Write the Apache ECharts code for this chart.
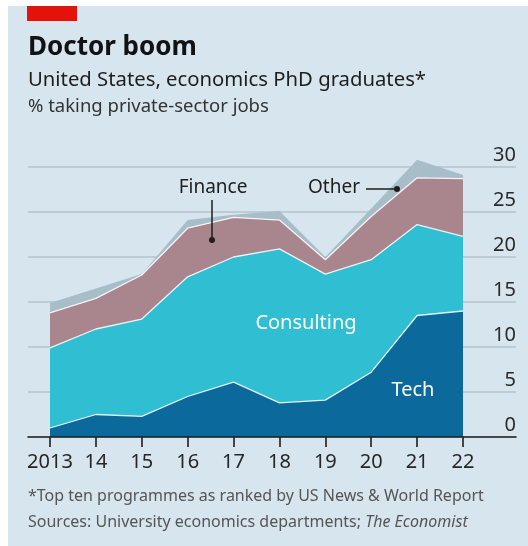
<!DOCTYPE html>
<html>
<head>
<meta charset="utf-8">
<script src="https://cdn.jsdelivr.net/npm/echarts@6/dist/echarts.min.js"></script>
<style>
  html, body { margin: 0; padding: 0; background: #ffffff; }
  #panel { position: absolute; left: 8px; top: 6px; width: 520px; height: 540px; background: #d7e5ee; }
  #chart { position: absolute; left: 0; top: 0; width: 528px; height: 546px; }
</style>
</head>
<body>
<div id="panel"></div>
<div id="chart"></div>
<script>
const years = ["2013", "14", "15", "16", "17", "18", "19", "20", "21", "22"];
const tech = [1.0, 2.5, 2.3, 4.5, 6.1, 3.8, 4.1, 7.2, 13.5, 14.0];
const consulting = [8.9, 9.5, 10.8, 13.3, 13.9, 17.1, 14.0, 12.5, 10.1, 8.3];
const finance = [3.9, 3.4, 4.9, 5.4, 4.4, 3.2, 1.6, 4.8, 5.2, 6.4];
const other = [1.1, 1.1, 0.1, 0.9, 0.3, 1.0, 0.3, 0.9, 2.0, 0.4];
const yMin = 0, yMax = 30, yStep = 5;

const FONT = "Noto Sans";
const chart = echarts.init(document.getElementById('chart'), null, { renderer: 'canvas' });

function areaSeries(name, data, color, lineW) {
  return {
    name: name, type: 'line', stack: 'total', xAxisIndex: 1, yAxisIndex: 1,
    data: data, symbol: 'none', smooth: false, z: 2, clip: false,
    lineStyle: { width: lineW, color: 'rgba(255,255,255,0.85)' },
    areaStyle: { color: color, opacity: 1 },
    emphasis: { disabled: true }
  };
}

const Z = 100;
chart.setOption({
  animation: false,
  textStyle: { fontFamily: FONT },
  grid: [
    { left: 28, right: 12, top: 167, bottom: 109 },
    { left: 50, right: 65, top: 167, bottom: 109 }
  ],
  xAxis: [
    { type: 'value', gridIndex: 0, min: 0, max: 1, show: true, z: 10,
      axisLine: { show: true, lineStyle: { color: '#1e1e1e', width: 1.6 } },
      axisTick: { show: false }, axisLabel: { show: false }, splitLine: { show: false } },
    { type: 'category', gridIndex: 1, data: years, boundaryGap: false, z: 10,
      axisLine: { show: false },
      axisTick: { show: true, length: 10, interval: 0, lineStyle: { color: '#1e1e1e', width: 1.6 } },
      axisLabel: { interval: 0, fontSize: 20, color: '#262626', margin: 15, fontFamily: FONT } }
  ],
  yAxis: [
    { type: 'value', gridIndex: 0, min: yMin, max: yMax, interval: yStep, position: 'right',
      axisLine: { show: false }, axisTick: { show: false },
      splitLine: { show: true, lineStyle: { color: '#b2c3cd', width: 1.5 } },
      axisLabel: { inside: true, margin: 0, fontSize: 20, color: '#2a2a2a', verticalAlign: 'bottom',
        padding: [0, 0, 2, 0], fontFamily: FONT } },
    { type: 'value', gridIndex: 1, min: yMin, max: yMax, interval: yStep, show: false }
  ],
  series: [
    areaSeries('Tech', tech, '#0b6a9b', 1.3),
    areaSeries('Consulting', consulting, '#30bed3', 1.3),
    areaSeries('Finance', finance, '#a9858d', 1.3),
    areaSeries('Other', other, '#a7bdc8', 0)
  ],
  graphic: [
    { type: 'rect', z: Z, left: 27, top: 6, shape: { width: 50, height: 15 }, style: { fill: '#e3120b' } },
    { type: 'text', z: Z, left: 28, top: 35, style: { text: 'Doctor boom', font: 'bold 26px "Noto Sans"', fill: '#121212' } },
    { type: 'text', z: Z, left: 28, top: 70, style: { text: 'United States, economics PhD graduates*', font: '20.3px "Noto Sans"', fill: '#1e1e1e' } },
    { type: 'text', z: Z, left: 28, top: 97, style: { text: '% taking private-sector jobs', font: '18.5px "Noto Sans"', fill: '#333333' } },
    { type: 'text', z: Z, left: 28, top: 488, style: { text: '*Top ten programmes as ranked by US News & World Report', font: '16px "Noto Sans"', fill: '#555555' } },
    { type: 'text', z: Z, left: 28, top: 514, style: { rich: { a: { font: '16px "Noto Sans"', fill: '#555555' }, b: { font: 'italic 16px "Noto Sans"', fill: '#555555' } },
        text: '{a|Sources: University economics departments; }{b|The Economist}' } },
    // annotations
    { type: 'text', z: Z, x: 213, y: 188, style: { text: 'Finance', font: '19px "Noto Sans"', fill: '#1e1e1e', align: 'center', verticalAlign: 'middle' } },
    { type: 'line', z: Z, shape: { x1: 212, y1: 200, x2: 212, y2: 240 }, style: { stroke: '#1e1e1e', lineWidth: 1.5 } },
    { type: 'circle', z: Z, shape: { cx: 212, cy: 240, r: 3 }, style: { fill: '#1e1e1e' } },
    { type: 'text', z: Z, x: 334, y: 188, style: { text: 'Other', font: '19px "Noto Sans"', fill: '#1e1e1e', align: 'center', verticalAlign: 'middle' } },
    { type: 'line', z: Z, shape: { x1: 366, y1: 189, x2: 397, y2: 189 }, style: { stroke: '#1e1e1e', lineWidth: 1.5 } },
    { type: 'circle', z: Z, shape: { cx: 397, cy: 189, r: 3 }, style: { fill: '#1e1e1e' } },
    { type: 'text', z: Z, x: 306, y: 323, style: { text: 'Consulting', font: '20px "Noto Sans"', fill: '#ffffff', align: 'center', verticalAlign: 'middle' } },
    { type: 'text', z: Z, x: 413, y: 390, style: { text: 'Tech', font: '20px "Noto Sans"', fill: '#ffffff', align: 'center', verticalAlign: 'middle' } }
  ]
});
</script>
</body>
</html>
